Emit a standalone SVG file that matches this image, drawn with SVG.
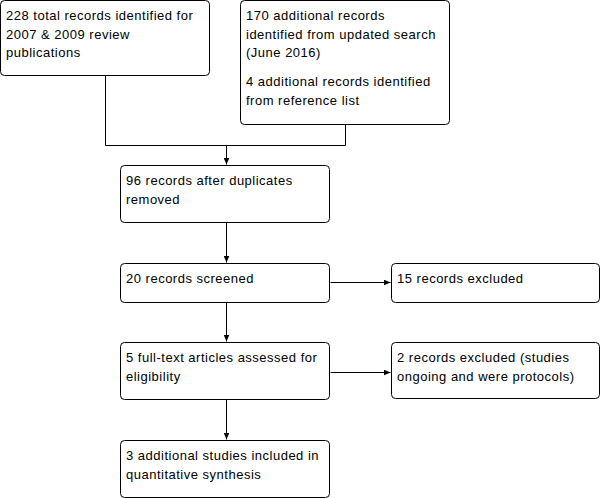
<svg xmlns="http://www.w3.org/2000/svg" width="602" height="498" viewBox="0 0 602 498">
<style>
.box{fill:#fff;stroke:#000;stroke-width:1}
.t{font-family:"Liberation Sans",Arial,sans-serif;font-size:13px;letter-spacing:0.5px;fill:#000}
.c{fill:none;stroke:#000;stroke-width:1}
</style>
<defs>
<marker id="ah" markerWidth="8" markerHeight="6" refX="7" refY="3" orient="auto" markerUnits="userSpaceOnUse">
<path d="M0,0 L7,3 L0,6 Z" fill="#000"/>
</marker>
</defs>
<rect width="602" height="498" fill="#fff"/>
<g id="connectors">
<path class="c" d="M105.5,75.5 V145.5 H345.5 V124.5"/>
<path class="c" d="M226.5,145.5 V164.5" marker-end="url(#ah)"/>
<path class="c" d="M226.5,222.5 V262.5" marker-end="url(#ah)"/>
<path class="c" d="M330.5,282.5 H390.5" marker-end="url(#ah)"/>
<path class="c" d="M226.5,302.5 V341.5" marker-end="url(#ah)"/>
<path class="c" d="M330.5,372.5 H390.5" marker-end="url(#ah)"/>
<path class="c" d="M226.5,399.5 V439.5" marker-end="url(#ah)"/>
</g>
<g id="n1">
<rect class="box" x="0.5" y="0.5" width="209" height="75" rx="4"/>
<text class="t" x="6" y="20">228 total records identified for</text>
<text class="t" x="6" y="38.5">2007 &amp; 2009 review</text>
<text class="t" x="6" y="57">publications</text>
</g>
<g id="n2">
<rect class="box" x="240.5" y="0.5" width="209" height="124" rx="4"/>
<text class="t" x="246" y="20">170 additional records</text>
<text class="t" x="246" y="38.5">identified from updated search</text>
<text class="t" x="246" y="57">(June 2016)</text>
<text class="t" x="246" y="86">4 additional records identified</text>
<text class="t" x="246" y="104.5">from reference list</text>
</g>
<g id="n3">
<rect class="box" x="120.5" y="165.5" width="209" height="57" rx="4"/>
<text class="t" x="126" y="185">96 records after duplicates</text>
<text class="t" x="126" y="203.5">removed</text>
</g>
<g id="n4">
<rect class="box" x="120.5" y="263.5" width="209" height="39" rx="4"/>
<text class="t" x="126" y="283">20 records screened</text>
</g>
<g id="n5">
<rect class="box" x="391.5" y="263.5" width="208" height="39" rx="4"/>
<text class="t" x="397" y="283">15 records excluded</text>
</g>
<g id="n6">
<rect class="box" x="120.5" y="342.5" width="209" height="57" rx="4"/>
<text class="t" x="126" y="362">5 full-text articles assessed for</text>
<text class="t" x="126" y="380.5">eligibility</text>
</g>
<g id="n7">
<rect class="box" x="391.5" y="342.5" width="208" height="56" rx="4"/>
<text class="t" x="397" y="362">2 records excluded (studies</text>
<text class="t" x="397" y="380.5">ongoing and were protocols)</text>
</g>
<g id="n8">
<rect class="box" x="120.5" y="440.5" width="209" height="57" rx="4"/>
<text class="t" x="126" y="460">3 additional studies included in</text>
<text class="t" x="126" y="478.5">quantitative synthesis</text>
</g>
</svg>
